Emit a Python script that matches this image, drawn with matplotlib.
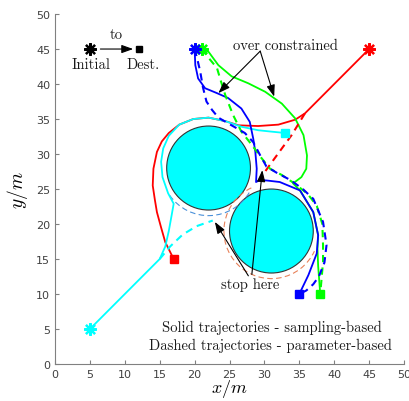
import matplotlib
matplotlib.use("Agg")
import matplotlib.pyplot as plt
from matplotlib.patches import Circle, Arc

plt.rcParams['mathtext.fontset'] = 'cm'

# obstacles: centre x, centre y, radius
obs_x = [22, 31]
obs_y = [28, 19]
obs_r = [6, 6]

# start / destination of each vehicle
starts = {'c': (5, 5), 'r': (45, 45), 'b': (20, 45), 'g': (21, 45)}
dests = {'c': (33, 33), 'r': (17, 15), 'b': (35, 10), 'g': (38, 10)}

# sampling-based (solid) trajectories
cyan_sx = [5, 15, 15.8, 16.3, 16.7, 17.0, 16.2, 15.4, 15.2, 15.5, 16.3, 17.8, 19.8, 22.0, 24.4, 26.7, 29.1, 31.0, 33]
cyan_sy = [5, 15, 16.8, 19.0, 21.2, 22.9, 24.4, 26.7, 28.9, 30.8, 32.6, 34.2, 35.0, 35.2, 34.7, 33.9, 33.4, 33.2, 33]
red_sx = [45, 35.8, 34.4, 32.0, 29.1, 26.3, 24.4, 22.0, 19.8, 17.8, 16.3, 15.3, 14.6, 14.1, 14.0, 14.3, 14.6, 15.2, 15.8, 17]
red_sy = [45, 35.8, 34.9, 34.2, 34.0, 34.1, 34.7, 35.2, 35.0, 34.2, 33.0, 31.8, 30.3, 27.9, 25.5, 23.5, 21.7, 19.5, 17.4, 15]
blue_sx = [20, 20.1, 20.5, 21.5, 23.2, 24.8, 26.7, 27.9, 28.4, 28.7, 28.9, 28.8, 29.4, 30.5, 32.2, 35.1, 37.0, 37.7, 37.5, 36.3, 35]
blue_sy = [45, 42.7, 40.8, 39.4, 38.7, 38.0, 36.5, 34.6, 32.2, 30.3, 27.9, 26.0, 26.3, 26.2, 26.0, 24.8, 21.7, 18.4, 15.8, 12.7, 10]
green_sx = [21, 22.0, 23.4, 25.3, 27.7, 30.1, 32.5, 34.4, 35.6, 36.1, 36.0, 35.3, 34.1, 35.1, 37.0, 37.7, 37.6, 37.7, 38]
green_sy = [45, 44.6, 42.7, 41.1, 40.1, 38.9, 37.2, 35.1, 32.7, 29.8, 27.9, 26.7, 25.8, 24.8, 21.7, 18.4, 16.5, 14.0, 10]

# parameter-based (dashed) trajectories, from where they leave the solid ones
cyan_dx = [15, 16.5, 18.3, 20.3, 22.6]
cyan_dy = [15, 16.8, 18.5, 19.7, 20.5]
red_dx = [35.8, 33.9, 32.5, 30.6, 29.6]
red_dy = [35.8, 32.7, 30.8, 28.2, 26.8]
blue_dx = [20, 20.4, 20.8, 21.2, 21.7, 22.5, 23.4, 25.3, 27.2, 28.4, 29.4, 30.3, 31.8, 33.7, 35.5, 37.0, 38.4, 38.9, 38.6, 37.8, 37.0, 36.0, 35]
blue_dy = [45, 43.5, 41.8, 39.5, 37.5, 36.3, 35.2, 34.1, 33.0, 31.7, 29.8, 28.2, 27.3, 26.3, 25.0, 23.6, 20.3, 17.0, 14.5, 12.5, 11.4, 10.5, 10]
green_dx = [21, 22.2, 23.2, 23.8, 24.4, 25.5, 26.7, 28.2, 29.6, 30.8, 32.5, 34.3, 36.2, 37.5, 38.3, 38.4, 38.4, 38.2, 38]
green_dy = [45, 43.5, 42.3, 40.3, 38.4, 35.6, 33.2, 31.3, 29.4, 27.9, 27.0, 25.8, 24.3, 22.6, 20.0, 17.0, 14.6, 12.3, 10]

colors = {'c': '#00FFFF', 'r': '#FF0000', 'b': '#0000FF', 'g': '#00FF00'}

fig = plt.figure(figsize=(4.09, 4.02), dpi=100)
ax = fig.add_axes([0.1345, 0.092, 0.8533, 0.8706])

for x, y, r in zip(obs_x, obs_y, obs_r):
    ax.add_patch(Circle((x, y), r, facecolor='#00FFFF', edgecolor='#333333', lw=0.8, zorder=2))

# stopping arcs of the parameter-based planner
ax.add_patch(Arc((22, 28), 13.6, 13.6, theta1=215, theta2=330, color='#4A90D9',
                 lw=0.8, ls=(0, (5, 3)), zorder=3))
ax.add_patch(Arc((31, 19), 13.6, 13.6, theta1=115, theta2=335, color='#E8825A',
                 lw=0.8, ls=(0, (5, 3)), zorder=3))

lw = 1.3
ax.plot(red_sx, red_sy, color=colors['r'], lw=lw, zorder=4)
ax.plot(cyan_sx, cyan_sy, color=colors['c'], lw=lw, zorder=4)
ax.plot(green_sx, green_sy, color=colors['g'], lw=lw, zorder=4)
ax.plot(blue_sx, blue_sy, color=colors['b'], lw=lw, zorder=4)

dash = (0, (3.5, 2.5))
ax.plot(cyan_dx, cyan_dy, color=colors['c'], lw=1.5, ls=dash, zorder=4)
ax.plot(red_dx, red_dy, color=colors['r'], lw=1.5, ls=dash, zorder=4)
ax.plot(green_dx, green_dy, color=colors['g'], lw=1.5, ls=dash, zorder=4)
ax.plot(blue_dx, blue_dy, color=colors['b'], lw=1.5, ls=dash, zorder=4)

star = (8, 2, 0)
for k in ['c', 'r', 'g', 'b']:
    sx, sy = starts[k]
    dx, dy = dests[k]
    ax.plot(sx, sy, marker=star, ms=9, mew=1.6, color=colors[k], zorder=5)
    ax.plot(dx, dy, marker='s', ms=5.5, color=colors[k], zorder=5)

# key: initial -> destination
ax.plot(5, 45, marker=star, ms=9, mew=1.6, color='black')
ax.plot(12, 45, marker='s', ms=5, color='black')
arrow = dict(arrowstyle='-|>,head_length=0.7,head_width=0.25', color='black', lw=0.8,
             shrinkA=0, shrinkB=0)
ax.annotate('', xy=(11.2, 45), xytext=(6.5, 45), arrowprops=arrow)

serif = dict(family='cmr10', color='#1a1a1a')
ax.text(8.7, 47.1, 'to', ha='center', va='center', fontsize=10.5, **serif)
ax.text(5.2, 42.9, 'Initial', ha='center', va='center', fontsize=10.5, **serif)
ax.text(12.6, 42.9, 'Dest.', ha='center', va='center', fontsize=10.5, **serif)

ax.text(33, 45.5, 'over constrained', ha='center', va='center', fontsize=10.5, **serif)
ax.annotate('', xy=(23.4, 38.7), xytext=(29.4, 44.7), arrowprops=arrow, zorder=6)
ax.annotate('', xy=(31.4, 38.2), xytext=(29.4, 44.7), arrowprops=arrow, zorder=6)

ax.text(27.9, 11.4, 'stop here', ha='center', va='center', fontsize=10.5, **serif)
ax.annotate('', xy=(22.9, 20.3), xytext=(27.7, 12.6), arrowprops=arrow, zorder=6)
ax.annotate('', xy=(29.7, 27.7), xytext=(28.2, 12.8), arrowprops=arrow, zorder=6)

ax.text(31.1, 5.3, 'Solid trajectories - sampling-based', ha='center', va='center',
        fontsize=10.5, **serif)
ax.text(30.8, 2.8, 'Dashed trajectories - parameter-based', ha='center', va='center',
        fontsize=10.5, **serif)

ax.set_xlim(0, 50)
ax.set_ylim(0, 50)
ax.set_xticks(range(0, 51, 5))
ax.set_yticks(range(0, 51, 5))
ax.tick_params(direction='in', length=3, width=0.8, colors='#808080', labelcolor='#404040',
               labelsize=8)
for side in ['top', 'right']:
    ax.spines[side].set_visible(False)
for side in ['left', 'bottom']:
    ax.spines[side].set_color('#808080')
    ax.spines[side].set_linewidth(0.8)
ax.set_xlabel('$x/m$', fontsize=13, labelpad=-1)
ax.set_ylabel('$y/m$', fontsize=14, labelpad=4)

fig.savefig('out.png', dpi=100)
